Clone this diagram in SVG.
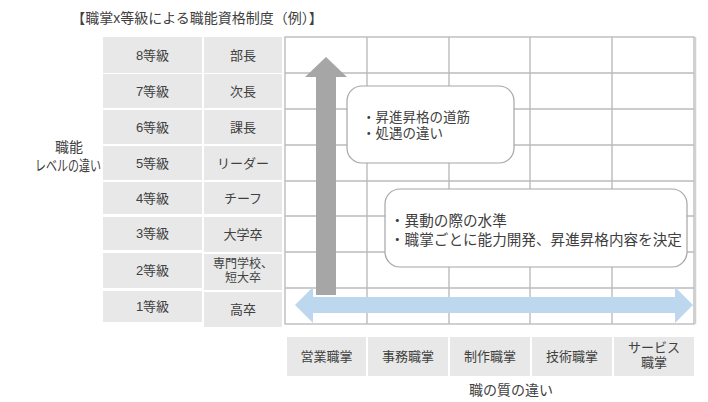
<svg xmlns="http://www.w3.org/2000/svg" width="708" height="402" viewBox="0 0 708 402">
<style>
text{font-family:"Liberation Sans","Noto Sans CJK JP",sans-serif;fill:#404040;font-size:13px;}
.c{text-anchor:middle;}
.lab{fill:#e8e8e8;}
.g{stroke:#bcbcbc;stroke-width:1.4;fill:none;}
.bx{fill:#fff;stroke:#a6a6a6;stroke-width:1.2;}
</style>
<rect width="708" height="402" fill="#fff"/>
<text x="197" y="23" class="c" style="font-size:14px">【職掌x等級による職能資格制度（例）】</text>
<g id="axis-y-label">
<text x="69" y="152" class="c" style="font-size:14px">職能</text>
<text x="68" y="171" class="c" style="font-size:14.5px" textLength="66" lengthAdjust="spacingAndGlyphs">レベルの違い</text>
</g>
<g id="grades">
<rect class="lab" x="103" y="37" width="99" height="36"/><text x="152.5" y="60" class="c">8等級</text>
<rect class="lab" x="103" y="74" width="99" height="34"/><text x="152.5" y="96" class="c">7等級</text>
<rect class="lab" x="103" y="110" width="99" height="34"/><text x="152.5" y="132" class="c">6等級</text>
<rect class="lab" x="103" y="146" width="99" height="34"/><text x="152.5" y="168" class="c">5等級</text>
<rect class="lab" x="103" y="182" width="99" height="32"/><text x="152.5" y="203" class="c">4等級</text>
<rect class="lab" x="103" y="217" width="99" height="33"/><text x="152.5" y="238" class="c">3等級</text>
<rect class="lab" x="103" y="253" width="99" height="35"/><text x="152.5" y="275" class="c">2等級</text>
<rect class="lab" x="103" y="291" width="99" height="31"/><text x="152.5" y="311" class="c">1等級</text>
</g>
<g id="positions">
<rect class="lab" x="204" y="37" width="78" height="36"/><text x="243" y="60" class="c">部長</text>
<rect class="lab" x="204" y="74" width="78" height="34"/><text x="243" y="96" class="c">次長</text>
<rect class="lab" x="204" y="110" width="78" height="34"/><text x="243" y="132" class="c">課長</text>
<rect class="lab" x="204" y="146" width="78" height="34"/><text x="243" y="168" class="c">リーダー</text>
<rect class="lab" x="204" y="182" width="78" height="32"/><text x="243" y="203" class="c">チーフ</text>
<rect class="lab" x="204" y="217" width="78" height="35"/><text x="243" y="239" class="c">大学卒</text>
<rect class="lab" x="204" y="254" width="78" height="36"/><text x="243" y="268" class="c" style="font-size:12px">専門学校、</text><text x="243" y="282" class="c" style="font-size:12px">短大卒</text>
<rect class="lab" x="204" y="292" width="78" height="35"/><text x="243" y="314" class="c">高卒</text>
</g>
<g id="grid">
<rect class="g" x="285" y="37" width="409" height="287"/>
<path class="g" d="M367 37V324M449 37V324M530 37V324M612 37V324M285 73H694M285 109H694M285 145H694M285 181H694M285 216H694M285 252H694M285 288H694"/>
<line x1="695.5" y1="37" x2="695.5" y2="324" stroke="#d0d0d0" stroke-width="1.5"/>
</g>
<g id="connectors">
<polygon points="326,57 347,77 336,77 336,295 316,295 316,77 305,77" fill="#a6a6a6"/>
<polygon points="295,305 313,287 313,297 675,297 675,287 693,305 675,323 675,313 313,313 313,323" fill="#bdd7ee"/>
</g>
<g id="note1">
<rect class="bx" x="347" y="86" width="167" height="77" rx="15"/>
<text x="362" y="122" style="font-size:13.5px">・昇進昇格の道筋</text>
<text x="362" y="138" style="font-size:13.5px">・処遇の違い</text>
</g>
<g id="note2">
<rect class="bx" x="385" y="189" width="302" height="78" rx="15"/>
<text x="390" y="226" style="font-size:14.6px">・異動の際の水準</text>
<text x="390" y="245" style="font-size:14.6px">・職掌ごとに能力開発、昇進昇格内容を決定</text>
</g>
<g id="categories">
<rect class="lab" x="287" y="337" width="79" height="39"/><text x="326.5" y="361" class="c">営業職掌</text>
<rect class="lab" x="368" y="337" width="80" height="39"/><text x="408" y="361" class="c">事務職掌</text>
<rect class="lab" x="450" y="337" width="80" height="39"/><text x="490" y="361" class="c">制作職掌</text>
<rect class="lab" x="532" y="337" width="80" height="39"/><text x="572" y="361" class="c">技術職掌</text>
<rect class="lab" x="614" y="337" width="80" height="39"/><text x="654" y="352" class="c">サービス</text><text x="654" y="367" class="c">職掌</text>
</g>
<text id="axis-x-label" x="511" y="395" class="c" style="font-size:14px">職の質の違い</text>
</svg>
